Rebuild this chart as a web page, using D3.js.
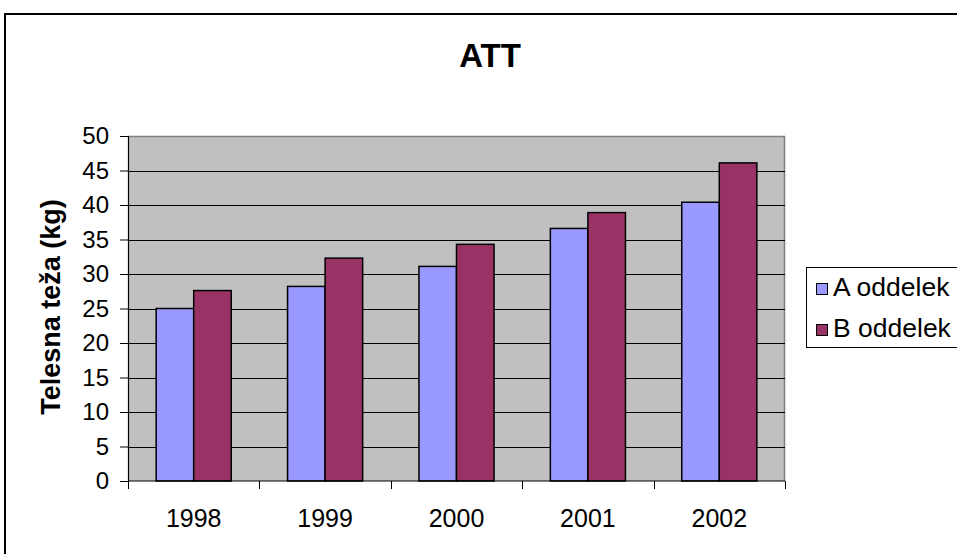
<!DOCTYPE html>
<html>
<head>
<meta charset="utf-8">
<script src="https://cdn.jsdelivr.net/npm/d3@7"></script>
<style>
  html, body { margin: 0; padding: 0; background: #fff; }
  svg { display: block; font-family: Arial, "Liberation Sans", sans-serif; }
</style>
</head>
<body>
<svg id="chart" width="957" height="554"></svg>
<script>
// Body weight by year for two departments
const years = ["1998", "1999", "2000", "2001", "2002"];
const seriesNames = ["A oddelek", "B oddelek"];
const seriesA = [25.0, 28.2, 31.1, 36.6, 40.4];
const seriesB = [27.6, 32.3, 34.3, 38.9, 46.1];
const yTicks = [0, 5, 10, 15, 20, 25, 30, 35, 40, 45, 50];
const colors = ["#9999FF", "#993366"];

const svg = d3.select("#chart");
const plot = { left: 128, right: 785, top: 136, bottom: 481 };

// Chart frame (runs past the right and bottom edges)
svg.append("rect")
  .attr("x", 5).attr("y", 14)
  .attr("width", 1000).attr("height", 600)
  .attr("fill", "#fff").attr("stroke", "#000").attr("stroke-width", 2);

const x = d3.scaleBand().domain(years).range([plot.left, plot.right]).paddingInner(0).paddingOuter(0);
const x1 = d3.scaleBand().domain(seriesNames).range([0, x.bandwidth()]).paddingInner(0).paddingOuter(0.75);
const y = d3.scaleLinear().domain([0, 50]).range([plot.bottom, plot.top]);

// Plot background
svg.append("rect")
  .attr("x", plot.left).attr("y", plot.top)
  .attr("width", plot.right - plot.left).attr("height", plot.bottom - plot.top)
  .attr("fill", "#C0C0C0");

// Plot border (top and right)
svg.append("path")
  .attr("d", `M${plot.left},${plot.top + 0.5}H${plot.right - 0.5}V${plot.bottom}`)
  .attr("fill", "none").attr("stroke", "#808080").attr("stroke-width", 1.5);

// Horizontal gridlines
svg.append("g")
  .selectAll("line")
  .data(yTicks.filter(t => t > 0 && t < 50))
  .join("line")
  .attr("x1", plot.left).attr("x2", plot.right)
  .attr("y1", d => Math.round(y(d)) + 0.5).attr("y2", d => Math.round(y(d)) + 0.5)
  .attr("stroke", "#000").attr("stroke-width", 1);

// Bars
const data = years.map((yr, i) => ({ year: yr, values: [seriesA[i], seriesB[i]] }));
const groups = svg.append("g").selectAll("g")
  .data(data).join("g")
  .attr("transform", d => `translate(${x(d.year)},0)`);
groups.selectAll("rect")
  .data(d => d.values.map((v, j) => ({ name: seriesNames[j], value: v, j })))
  .join("rect")
  .attr("x", d => x1(d.name))
  .attr("y", d => y(d.value))
  .attr("width", x1.bandwidth())
  .attr("height", d => y(0) - y(d.value))
  .attr("fill", d => colors[d.j])
  .attr("stroke", "#000").attr("stroke-width", 1.5);

// Y axis
const yAxis = d3.axisLeft(y).tickValues(yTicks).tickSize(8).tickPadding(11);
const gy = svg.append("g").attr("transform", `translate(${plot.left},0)`).call(yAxis);
gy.select(".domain").attr("stroke", "#000").attr("stroke-width", 1.2);
gy.selectAll(".tick line").attr("stroke", "#000");
gy.selectAll(".tick text")
  .attr("font-size", 24).attr("fill", "#000")
  .attr("font-family", "Arial, 'Liberation Sans', sans-serif");

// X axis with ticks on category boundaries
svg.append("line")
  .attr("x1", plot.left).attr("x2", plot.right)
  .attr("y1", plot.bottom).attr("y2", plot.bottom)
  .attr("stroke", "#000").attr("stroke-width", 1.2);
const boundaries = years.map(d => x(d)).concat([x(years[years.length - 1]) + x.bandwidth()]);
svg.append("g").selectAll("line")
  .data(boundaries).join("line")
  .attr("x1", d => Math.round(d) + 0.5).attr("x2", d => Math.round(d) + 0.5)
  .attr("y1", plot.bottom).attr("y2", plot.bottom + 8)
  .attr("stroke", "#000");
svg.append("g").selectAll("text")
  .data(years).join("text")
  .attr("x", d => x(d) + x.bandwidth() / 2)
  .attr("y", 526.5)
  .attr("text-anchor", "middle")
  .attr("font-size", 25)
  .text(d => d);

// Title
svg.append("text")
  .attr("x", 490).attr("y", 66.5)
  .attr("text-anchor", "middle")
  .attr("font-size", 33).attr("font-weight", "bold")
  .text("ATT");

// Y axis title
svg.append("text")
  .attr("transform", "translate(60,307) rotate(-90)")
  .attr("text-anchor", "middle")
  .attr("font-size", 27).attr("font-weight", "bold")
  .text("Telesna teža (kg)");

// Legend
const legend = svg.append("g");
legend.append("rect")
  .attr("x", 806.5).attr("y", 267.5)
  .attr("width", 200).attr("height", 80)
  .attr("fill", "#fff").attr("stroke", "#000").attr("stroke-width", 1);
const items = legend.selectAll("g.item")
  .data(seriesNames).join("g").attr("class", "item")
  .attr("transform", (d, i) => `translate(0,${i * 41})`);
items.append("rect")
  .attr("x", 816.5).attr("y", 283.5)
  .attr("width", 11).attr("height", 11)
  .attr("fill", (d, i) => colors[i]).attr("stroke", "#000").attr("stroke-width", 1);
items.append("text")
  .attr("x", 833).attr("y", 295.5)
  .attr("font-size", 26.5)
  .text(d => d);
</script>
</body>
</html>
